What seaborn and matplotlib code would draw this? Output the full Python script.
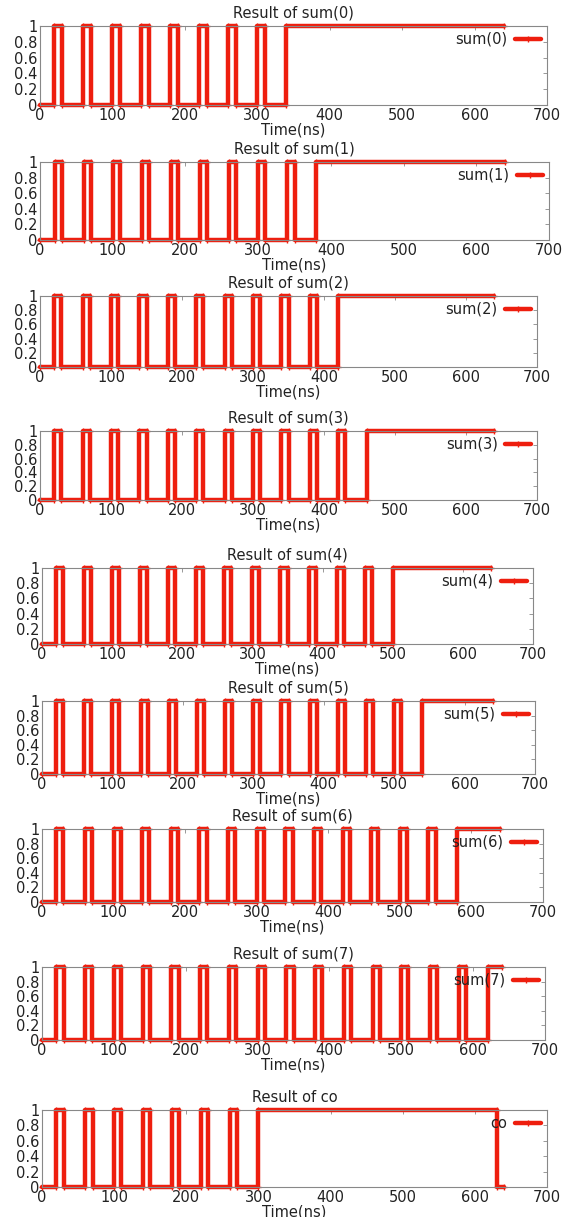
import numpy as np
import pandas as pd
import seaborn as sns
import matplotlib.pyplot as plt

# signal names and their edges (ns)
names = ['sum(0)', 'sum(1)', 'sum(2)', 'sum(3)', 'sum(4)', 'sum(5)', 'sum(6)', 'sum(7)', 'co']
titles = ['Result of sum(0)', 'Result of sum(1)', 'Result of sum(2)', 'Result of sum(3)',
          'Result of sum(4)', 'Result of sum(5)', 'Result of sum(6)', 'Result of sum(7)',
          'Result of co']

rise_sum0 = [20, 60, 100, 140, 180, 220, 260, 300, 340]
fall_sum0 = [30, 70, 110, 150, 190, 230, 270, 310]
rise_sum1 = [20, 60, 100, 140, 180, 220, 260, 300, 340, 380]
fall_sum1 = [30, 70, 110, 150, 190, 230, 270, 310, 350]
rise_sum2 = [20, 60, 100, 140, 180, 220, 260, 300, 340, 380, 420]
fall_sum2 = [30, 70, 110, 150, 190, 230, 270, 310, 350, 390]
rise_sum3 = [20, 60, 100, 140, 180, 220, 260, 300, 340, 380, 420, 460]
fall_sum3 = [30, 70, 110, 150, 190, 230, 270, 310, 350, 390, 430]
rise_sum4 = [20, 60, 100, 140, 180, 220, 260, 300, 340, 380, 420, 460, 500]
fall_sum4 = [30, 70, 110, 150, 190, 230, 270, 310, 350, 390, 430, 470]
rise_sum5 = [20, 60, 100, 140, 180, 220, 260, 300, 340, 380, 420, 460, 500, 540]
fall_sum5 = [30, 70, 110, 150, 190, 230, 270, 310, 350, 390, 430, 470, 510]
rise_sum6 = [20, 60, 100, 140, 180, 220, 260, 300, 340, 380, 420, 460, 500, 540, 580]
fall_sum6 = [30, 70, 110, 150, 190, 230, 270, 310, 350, 390, 430, 470, 510, 550]
rise_sum7 = [20, 60, 100, 140, 180, 220, 260, 300, 340, 380, 420, 460, 500, 540, 580, 620]
fall_sum7 = [30, 70, 110, 150, 190, 230, 270, 310, 350, 390, 430, 470, 510, 550, 590]
rise_co = [20, 60, 100, 140, 180, 220, 260, 300]
fall_co = [30, 70, 110, 150, 190, 230, 270, 630]
t_end = 640

rises = [rise_sum0, rise_sum1, rise_sum2, rise_sum3, rise_sum4, rise_sum5, rise_sum6, rise_sum7, rise_co]
falls = [fall_sum0, fall_sum1, fall_sum2, fall_sum3, fall_sum4, fall_sum5, fall_sum6, fall_sum7, fall_co]

x_ticks = [0, 100, 200, 300, 400, 500, 600, 700]
y_ticks = [0, 0.2, 0.4, 0.6, 0.8, 1]
y_ticklabels = ['0', '0.2', '0.4', '0.6', '0.8', '1']


def waveform(rise, fall, end):
    # each edge gives two points at the same time, like the simulator dump
    edges = sorted([(t, 1) for t in rise] + [(t, 0) for t in fall])
    t_list, v_list = [0], [0]
    level = 0
    for t, new in edges:
        t_list += [t, t]
        v_list += [level, new]
        level = new
    t_list.append(end)
    v_list.append(level)
    return pd.DataFrame({'t': t_list, 'v': v_list})


sns.set_style('white')
plt.rcParams['font.family'] = ['DejaVu Sans']
plt.rcParams['font.size'] = 9

fig = plt.figure(figsize=(5.69, 12.17), dpi=100)
W, H = 569, 1217
# panel boxes in pixels: left, top, right, bottom
boxes = [(40, 26, 547, 105), (40, 162, 549, 240), (40, 296, 537, 367),
         (40, 431, 537, 500), (42, 568, 533, 644), (42, 701, 535, 774),
         (42, 829, 543, 902), (42, 967, 545, 1040), (42, 1110, 547, 1187)]

red = '#ee1e0e'
for i, name in enumerate(names):
    l, t, r, b = boxes[i]
    ax = fig.add_axes([l / W, 1 - b / H, (r - l) / W, (b - t) / H])
    df = waveform(rises[i], falls[i], t_end)
    sns.lineplot(data=df, x='t', y='v', ax=ax, sort=False, estimator=None,
                 color=red, linewidth=3.2, marker='+', markersize=5,
                 markeredgewidth=1, markeredgecolor=red, label=name, clip_on=False)
    ax.set_xlim(0, 700)
    ax.set_ylim(0, 1)
    ax.set_xticks(x_ticks)
    ax.set_yticks(y_ticks)
    ax.set_yticklabels(y_ticklabels)
    ax.tick_params(direction='in', length=3, width=0.6, color='#888888',
                   top=True, right=True, labelsize=10.5, labelcolor='#222222')
    ax.tick_params(axis='x', pad=2.5)
    ax.tick_params(axis='y', pad=2)
    for s in ax.spines.values():
        s.set_color('#888888')
        s.set_linewidth(0.8)
    ax.set_xlabel('Time(ns)', fontsize=10.5, labelpad=-1, color='#222222')
    ax.set_ylabel('')
    ax.set_title(titles[i], fontsize=10.5, pad=6, color='#222222')
    ax.legend(loc='upper right', frameon=False, markerfirst=False, fontsize=10.5,
              handlelength=1.8, borderaxespad=0.0, handletextpad=0.5,
              labelcolor='#222222')

fig.savefig('out.png', dpi=100)
